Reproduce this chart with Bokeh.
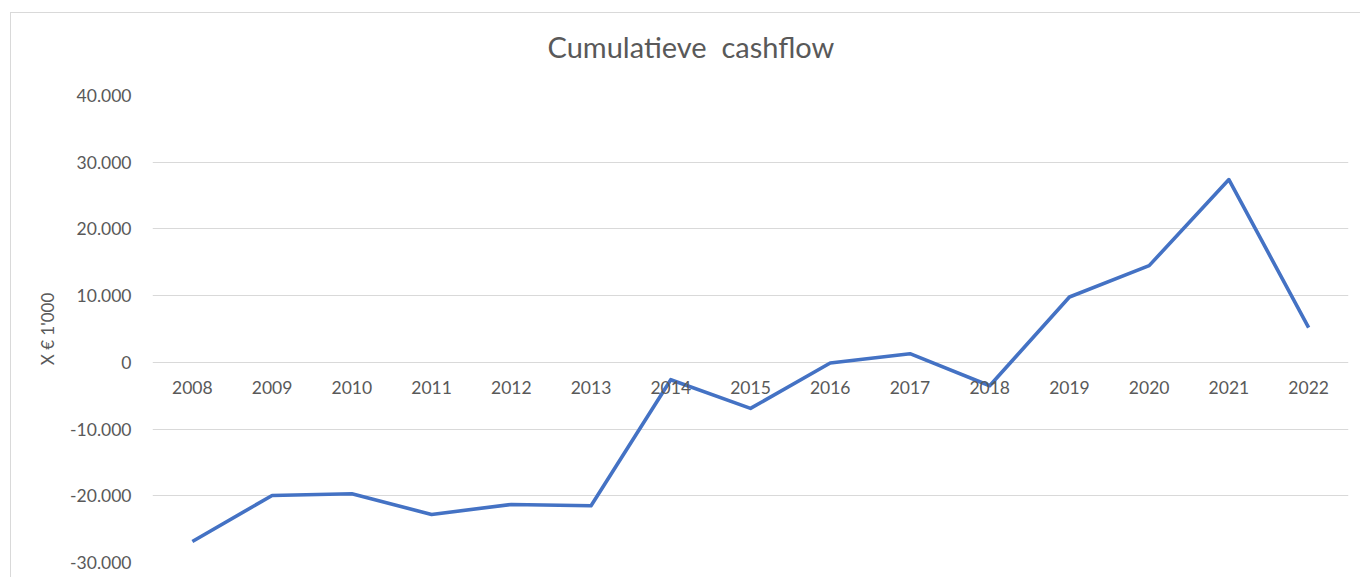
from bokeh.plotting import figure
from bokeh.models import FixedTicker, Range1d, Title
from bokeh.embed import file_html
from bokeh.resources import INLINE

years = ["2008", "2009", "2010", "2011", "2012", "2013", "2014", "2015",
         "2016", "2017", "2018", "2019", "2020", "2021", "2022"]
cashflow = [-26850, -19950, -19700, -22800, -21300, -21500, -2600, -6900,
            -100, 1300, -3500, 9800, 14500, 27400, 5200]
y_ticks = [-30000, -20000, -10000, 0, 10000, 20000, 30000, 40000]
y_tick_labels = ["-30.000", "-20.000", "-10.000", "0", "10.000", "20.000", "30.000", "40.000"]

FONT = "Lato"
GREY = "#595959"

p = figure(x_range=years, y_range=Range1d(-30000, 40000),
           width=1350, height=565, output_backend="svg", toolbar_location=None,
           min_border_left=141, min_border_right=13, min_border_top=82, min_border_bottom=16)
p.styles = {"border-left": "1px solid #d9d9d9", "border-top": "1px solid #d9d9d9",
            "margin-left": "10px", "margin-top": "12px"}

p.line(years, cashflow, line_color="#4472C4", line_width=3.6, line_join="round")

# spacer between plot area and title (closest to frame)
spacer = Title(text=" ", text_font_size="1px", standoff=29, text_color="white")
p.add_layout(spacer, "above")
main_title = Title(text="Cumulatieve\u00a0\u00a0cashflow", align="left", offset=395,
                   text_font=FONT, text_font_size="29px", text_font_style="normal",
                   text_color=GREY, standoff=0)
p.add_layout(main_title, "above")

p.outline_line_color = None
p.background_fill_color = "white"
p.border_fill_color = "white"

p.xgrid.grid_line_color = None
p.ygrid.grid_line_color = "#d9d9d9"
p.ygrid.grid_line_width = 1.2

yax = p.yaxis[0]
yax.ticker = FixedTicker(ticks=y_ticks)
yax.major_label_overrides = {t: l for t, l in zip(y_ticks, y_tick_labels)}
yax.axis_line_color = None
yax.major_tick_line_color = None
yax.minor_tick_line_color = None
yax.major_tick_out = 0
yax.major_tick_in = 0
yax.major_label_standoff = 21
yax.major_label_text_font = FONT
yax.major_label_text_font_size = "17.5px"
yax.major_label_text_color = GREY
yax.axis_label = "X € 1'000"
yax.axis_label_text_font = FONT
yax.axis_label_text_font_size = "17px"
yax.axis_label_text_font_style = "normal"
yax.axis_label_text_color = GREY
yax.axis_label_standoff = 9

xax = p.xaxis[0]
xax.fixed_location = 0
xax.axis_line_color = None
xax.major_tick_line_color = None
xax.minor_tick_line_color = None
xax.major_tick_out = 0
xax.major_tick_in = 0
xax.major_label_standoff = 19
xax.major_label_text_font = FONT
xax.major_label_text_font_size = "17.5px"
xax.major_label_text_color = GREY

open("out.html", "w").write(file_html(p, INLINE))
